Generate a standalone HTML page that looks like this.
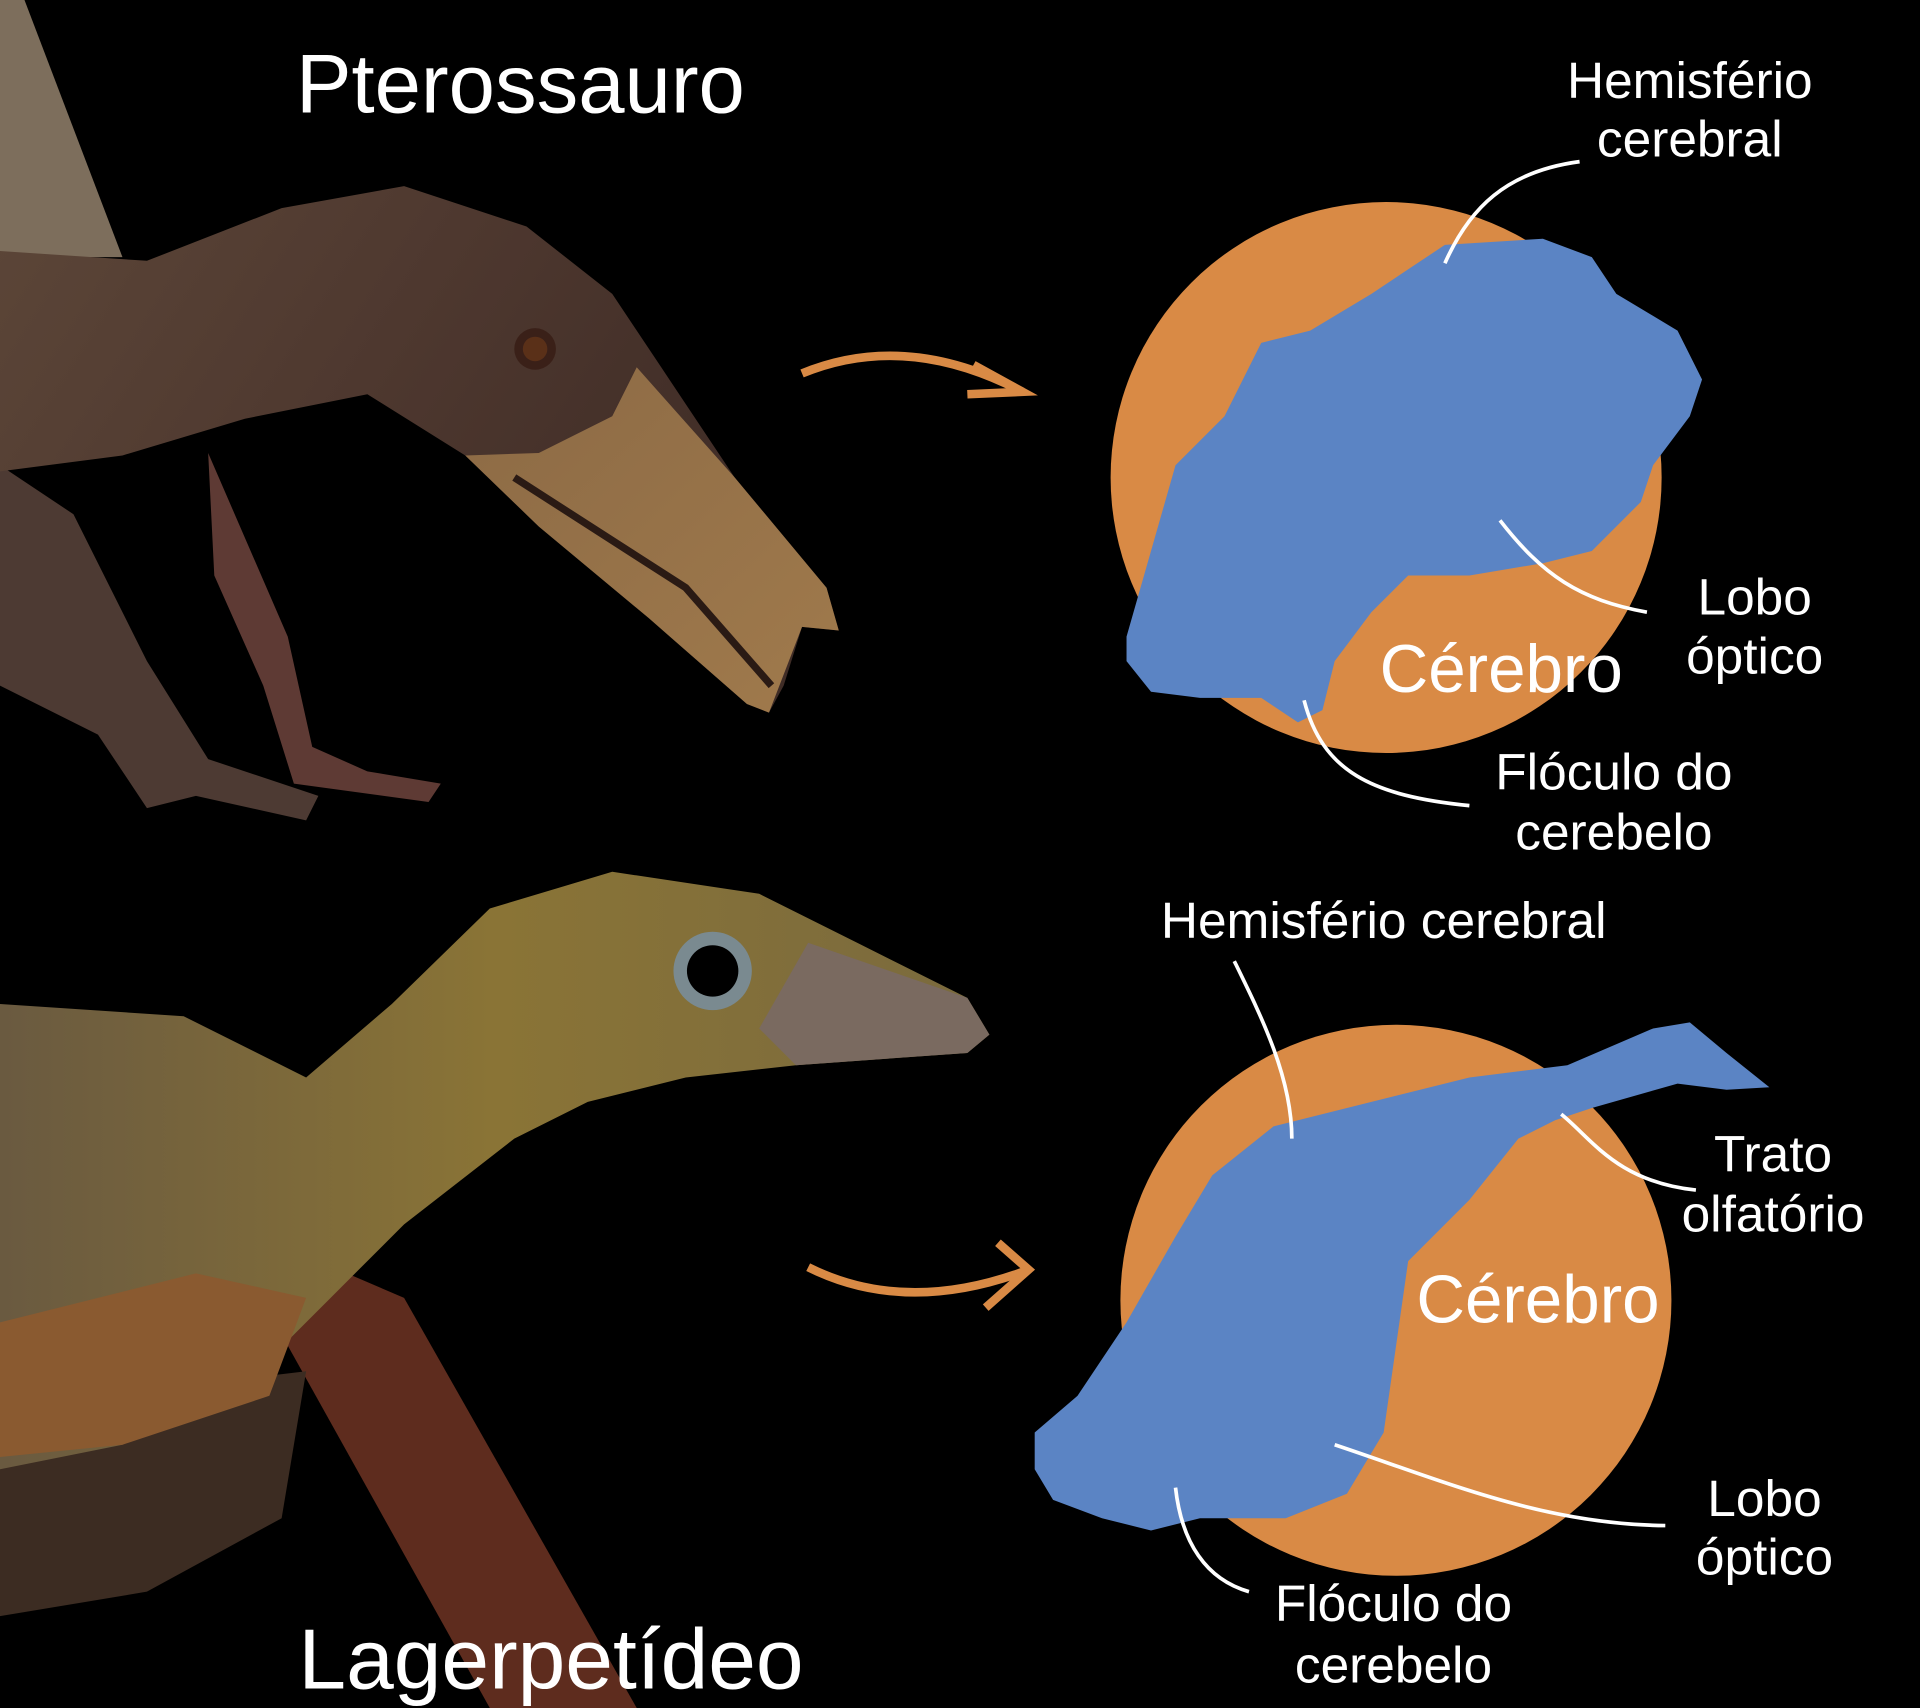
<!DOCTYPE html>
<html><head><meta charset="utf-8"><style>
html,body{margin:0;padding:0;background:#000;}
svg{display:block}
text{font-family:"Liberation Sans",sans-serif;fill:#fff}
</style></head><body>
<svg width="1920" height="1708" viewBox="0 0 1568 1395" preserveAspectRatio="none" xmlns="http://www.w3.org/2000/svg">
<defs>
<linearGradient id="pt" x1="0" y1="0" x2="1" y2="0.4">
<stop offset="0" stop-color="#5c4638"/><stop offset="0.5" stop-color="#4e382f"/><stop offset="1" stop-color="#3f2c26"/></linearGradient>
<linearGradient id="bk" x1="0" y1="0" x2="1" y2="1">
<stop offset="0" stop-color="#8c6a45"/><stop offset="1" stop-color="#a07a4c"/></linearGradient>
<linearGradient id="lg" x1="0" y1="0" x2="1" y2="0">
<stop offset="0" stop-color="#6a5a40"/><stop offset="0.5" stop-color="#8a7436"/><stop offset="1" stop-color="#7a6a3e"/></linearGradient>
</defs>
<rect width="1568" height="1395" fill="#000"/>
<polygon points="0,0 20,0 100,210 0,210" fill="#7d6e5c"/>
<path d="M170,370 L235,520 L255,610 L300,630 L360,640 L350,655 L240,640 L215,560 L175,470 Z" fill="#5e3a34"/>
<path d="M0,380 L60,420 L120,540 L170,620 L260,650 L250,670 L160,650 L120,660 L80,600 L0,560 Z" fill="#4d3a33"/>
<path d="M0,205 L120,213 L230,170 L330,152 L430,185 L500,240 L540,300 L600,390 L675,480 L685,515 L655,512 L640,560 L628,582 L610,575 L530,505 L440,430 L380,372 L300,322 L200,342 L100,372 L0,385 Z" fill="url(#pt)"/>
<path d="M520,300 L600,390 L675,480 L685,515 L655,512 L628,582 L610,575 L530,505 L440,430 L380,372 L440,370 L500,340 Z" fill="url(#bk)"/>
<path d="M420,390 L560,480 L630,560" stroke="#2a1a14" stroke-width="6" fill="none"/>
<circle cx="437" cy="285" r="17" fill="#3a2018"/><circle cx="437" cy="285" r="10" fill="#5a3018"/>
<path d="M260,1030 L330,1060 L520,1395 L400,1395 L230,1090 Z" fill="#5e2c1e"/>
<path d="M0,1150 L250,1120 L230,1240 L120,1300 L0,1320 Z" fill="#3c2c22"/>
<path d="M0,820 L150,830 L250,880 L320,820 L400,742 L500,712 L620,730 L700,770 L790,815 L808,845 L790,860 L650,870 L560,880 L480,900 L420,930 L330,1000 L270,1060 L200,1130 L100,1180 L0,1200 Z" fill="url(#lg)"/>
<path d="M660,770 L790,815 L808,845 L790,860 L650,870 L620,840 Z" fill="#7a6a60"/>
<path d="M0,1080 L160,1040 L250,1060 L220,1140 L100,1180 L0,1190 Z" fill="#8a5a30"/>
<circle cx="582" cy="793" r="32" fill="#7a8a90"/><circle cx="582" cy="793" r="21" fill="#000"/>
<path d="M655,305 Q740,270 835,320" stroke="#d98a45" stroke-width="7" fill="none"/>
<path d="M795,298 L835,320 L790,322" stroke="#d98a45" stroke-width="7" fill="none"/>
<path d="M660,1035 Q740,1075 840,1037" stroke="#d98a45" stroke-width="7" fill="none"/>
<path d="M815,1015 L840,1037 L805,1068" stroke="#d98a45" stroke-width="7" fill="none"/>
<circle cx="1132" cy="390" r="225" fill="#d98a45"/>
<circle cx="1140" cy="1062" r="225" fill="#d98a45"/>
<polygon points="920,520 960,380 1000,340 1030,280 1070,270 1120,240 1180,200 1260,195 1300,210 1320,240 1370,270 1390,310 1380,340 1350,380 1340,410 1300,450 1260,460 1200,470 1150,470 1120,500 1090,540 1080,580 1060,590 1030,570 980,570 940,565 920,540" fill="#5b84c4"/>
<polygon points="845,1170 880,1140 920,1080 960,1010 990,960 1040,920 1120,900 1200,880 1280,870 1350,840 1380,835 1410,860 1445,888 1410,890 1370,885 1300,905 1270,915 1240,930 1200,980 1150,1030 1140,1100 1130,1170 1100,1220 1050,1240 980,1240 940,1250 900,1240 860,1225 845,1200" fill="#5b84c4"/>
<g stroke="#fff" stroke-width="3" fill="none">
<path d="M1290,132 C1230,140 1200,170 1180,215"/>
<path d="M1225,425 C1260,470 1290,490 1345,500"/>
<path d="M1065,572 C1080,630 1120,650 1200,658"/>
<path d="M1008,785 C1030,830 1055,880 1055,930"/>
<path d="M1275,910 C1300,930 1320,965 1385,972"/>
<path d="M1090,1180 C1180,1210 1260,1245 1360,1246"/>
<path d="M960,1215 C965,1260 985,1290 1020,1300"/>
</g>
<text x="425" y="92" font-size="68" text-anchor="middle">Pterossauro</text>
<text x="450" y="1379" font-size="70" text-anchor="middle">Lagerpetídeo</text>
<g font-size="42" text-anchor="middle">
<text x="1380" y="80">Hemisfério</text><text x="1380" y="128">cerebral</text>
<text x="1433" y="502">Lobo</text><text x="1433" y="550">óptico</text>
<text x="1318" y="645">Flóculo do</text><text x="1318" y="694">cerebelo</text>
<text x="1130" y="766">Hemisfério cerebral</text>
<text x="1448" y="957">Trato</text><text x="1448" y="1006">olfatório</text>
<text x="1441" y="1238">Lobo</text><text x="1441" y="1286">óptico</text>
<text x="1138" y="1324">Flóculo do</text><text x="1138" y="1374">cerebelo</text>
</g>
<text x="1226" y="565" font-size="55" text-anchor="middle">Cérebro</text>
<text x="1256" y="1080" font-size="55" text-anchor="middle">Cérebro</text>
</svg>
</body></html>
